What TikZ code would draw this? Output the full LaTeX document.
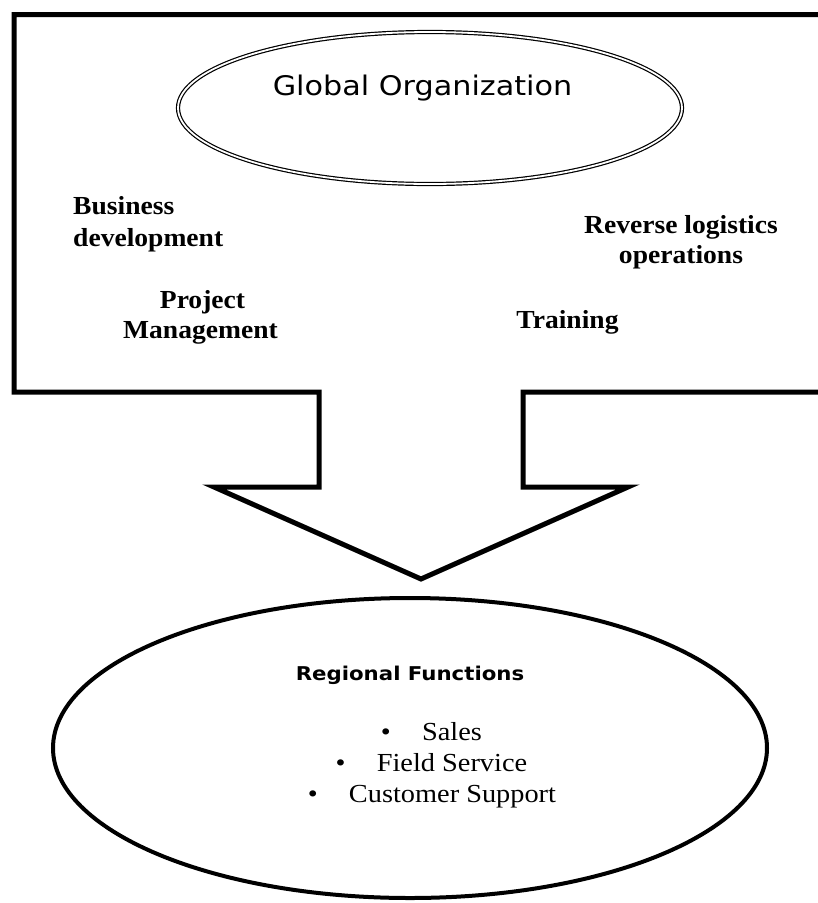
\documentclass[tikz,border=0pt]{standalone}
\usepackage{fontspec}
\setmainfont{Liberation Serif}
\newfontfamily\tfont{Liberation Serif}[FakeStretch=1.06]
\newfontfamily\lfont{Liberation Serif}[FakeStretch=1.09]
\newfontfamily\comic{DejaVu Sans}[FakeStretch=1.12]
\usetikzlibrary{shapes.geometric}
\begin{document}
\begin{tikzpicture}[x=1pt,y=-1pt,
  outline/.style={draw=black,line width=5pt,line join=miter},
  label/.style={inner sep=0pt,anchor=base,font=\tfont\bfseries\fontsize{26}{31}\selectfont},
  item/.style={inner sep=0pt,anchor=base,font=\lfont\fontsize{26}{31}\selectfont},
  title/.style={inner sep=0pt,anchor=base,font=\comic\fontsize{27}{32}\selectfont},
  subtitle/.style={inner sep=0pt,anchor=base,font=\comic\bfseries\fontsize{19}{23}\selectfont}]
\useasboundingbox (0,0) rectangle (818,903);
\fill[white] (0,0) rectangle (818,903);
\clip (0,0) rectangle (818,903);

% outer box with the down arrow
\coordinate (tr) at (840,14.5);
\coordinate (tl) at (14,14.5);
\coordinate (bl) at (14,392);
\coordinate (sl) at (319,392);
\coordinate (slb) at (319,487);
\coordinate (wl) at (214,487);
\coordinate (tip) at (421,579);
\coordinate (wr) at (628,487);
\coordinate (srb) at (523,487);
\coordinate (sr) at (523,392);
\coordinate (br) at (840,392);
\draw[outline] (tr) -- (tl) -- (bl) -- (sl) -- (slb) -- (wl) -- (tip) -- (wr) -- (srb) -- (sr) -- (br);

% top ellipse
\node[ellipse,draw=black,line width=1.2pt,double=white,double distance=1.8pt,
      minimum width=504pt,minimum height=152pt,inner sep=0pt] (glob) at (430,108) {};
\node[title] (globt) at (422.5,95) {Global Organization};

% labels in the box
\node[label,anchor=base west] (bd1) at (73,214) {Business};
\node[label,anchor=base west] (bd2) at (73,246) {development};
\node[label] (pm1) at (202.5,308) {Project};
\node[label] (pm2) at (200.5,338) {Management};
\node[label] (rl1) at (681,233) {Reverse logistics};
\node[label] (rl2) at (681,263) {operations};
\node[label] (tr1) at (567.5,328) {Training};

% bottom ellipse
\node[ellipse,draw=black,line width=4pt,minimum width=714pt,minimum height=300pt,inner sep=0pt] (reg) at (410,748) {};
\node[subtitle] (regt) at (410,680) {Regional Functions};
\node[item] (s1) at (452,740) {Sales};
\node[item] (s2) at (452,771) {Field Service};
\node[item] (s3) at (452.5,802) {Customer Support};
\node[item] at ([xshift=-36pt]s1.base west) (b1) {\textbullet};
\node[item] at ([xshift=-36pt]s2.base west) (b2) {\textbullet};
\node[item] at ([xshift=-36pt]s3.base west) (b3) {\textbullet};
\end{tikzpicture}
\end{document}
